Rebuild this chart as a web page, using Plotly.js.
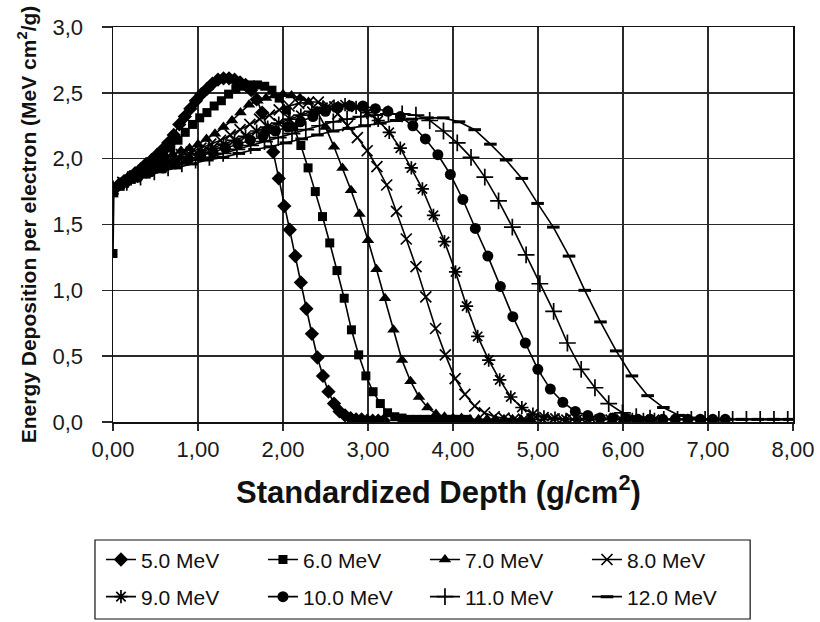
<!DOCTYPE html>
<html>
<head>
<meta charset="utf-8">
<script src="https://cdn.plot.ly/plotly-3.0.1.min.js"></script>
<style>
  html, body { margin: 0; padding: 0; background: #ffffff; }
  #chart { width: 820px; height: 622px; }
</style>
</head>
<body>
<div id="chart"></div>
<script>
// ---- Data ----
var seriesNames = ['5.0 MeV', '6.0 MeV', '7.0 MeV', '8.0 MeV', '9.0 MeV', '10.0 MeV', '11.0 MeV', '12.0 MeV'];

var depth5 = [0, 0.065, 0.13, 0.195, 0.26, 0.325, 0.39, 0.455, 0.52, 0.585, 0.65, 0.715, 0.78, 0.845, 0.91, 0.975, 1.04, 1.105, 1.17, 1.235, 1.3, 1.365, 1.43, 1.495, 1.56, 1.625, 1.69, 1.755, 1.82, 1.885, 1.95, 2.015, 2.08, 2.145, 2.21, 2.275, 2.34, 2.405, 2.47, 2.535, 2.6, 2.665, 2.73, 2.795, 2.86, 2.925, 2.99, 3.055, 3.12, 3.185];
var dose5 = [1.77, 1.80, 1.83, 1.86, 1.89, 1.92, 1.96, 1.99, 2.03, 2.07, 2.12, 2.18, 2.26, 2.32, 2.38, 2.44, 2.49, 2.53, 2.57, 2.60, 2.61, 2.61, 2.60, 2.58, 2.56, 2.52, 2.45, 2.35, 2.22, 2.05, 1.85, 1.64, 1.46, 1.26, 1.06, 0.86, 0.67, 0.49, 0.35, 0.23, 0.14, 0.08, 0.05, 0.03, 0.02, 0.02, 0.01, 0.01, 0.01, 0.01];

var depth6 = [0, 0.01, 0.085, 0.17, 0.255, 0.34, 0.425, 0.51, 0.595, 0.68, 0.765, 0.85, 0.935, 1.02, 1.105, 1.19, 1.275, 1.36, 1.445, 1.53, 1.615, 1.7, 1.785, 1.87, 1.955, 2.04, 2.125, 2.21, 2.295, 2.38, 2.465, 2.55, 2.635, 2.72, 2.805, 2.89, 2.975, 3.06, 3.145, 3.23, 3.315, 3.4, 3.485, 3.57, 3.655, 3.74, 3.825, 3.91, 3.995, 4.08, 4.165];
var dose6 = [1.28, 1.74, 1.79, 1.83, 1.88, 1.92, 1.96, 2.00, 2.04, 2.08, 2.14, 2.20, 2.26, 2.31, 2.35, 2.40, 2.44, 2.49, 2.53, 2.55, 2.56, 2.56, 2.55, 2.52, 2.46, 2.37, 2.24, 2.10, 1.93, 1.75, 1.56, 1.36, 1.15, 0.94, 0.70, 0.51, 0.35, 0.23, 0.14, 0.07, 0.04, 0.03, 0.02, 0.02, 0.02, 0.02, 0.02, 0.02, 0.02, 0.02, 0.02];

var depth7 = [0, 0.1, 0.2, 0.3, 0.4, 0.5, 0.6, 0.7, 0.8, 0.9, 1.0, 1.1, 1.2, 1.3, 1.4, 1.5, 1.6, 1.7, 1.8, 1.9, 2.0, 2.1, 2.2, 2.3, 2.4, 2.5, 2.6, 2.7, 2.8, 2.9, 3.0, 3.1, 3.2, 3.3, 3.4, 3.5, 3.6, 3.7, 3.8, 3.9, 4.0, 4.1, 4.2, 4.3, 4.4, 4.5, 4.6, 4.7, 4.8, 4.9];
var dose7 = [1.77, 1.81, 1.85, 1.89, 1.93, 1.97, 2.00, 2.03, 2.06, 2.08, 2.11, 2.15, 2.19, 2.24, 2.29, 2.35, 2.41, 2.44, 2.46, 2.48, 2.49, 2.48, 2.46, 2.43, 2.36, 2.24, 2.09, 1.93, 1.76, 1.58, 1.38, 1.16, 0.94, 0.70, 0.47, 0.31, 0.19, 0.11, 0.06, 0.04, 0.03, 0.03, 0.02, 0.02, 0.02, 0.02, 0.02, 0.02, 0.02, 0.02];

var depth8 = [0, 0.115, 0.23, 0.345, 0.46, 0.575, 0.69, 0.805, 0.92, 1.035, 1.15, 1.265, 1.38, 1.495, 1.61, 1.725, 1.84, 1.955, 2.07, 2.185, 2.3, 2.415, 2.53, 2.645, 2.76, 2.875, 2.99, 3.105, 3.22, 3.335, 3.45, 3.565, 3.68, 3.795, 3.91, 4.025, 4.14, 4.255, 4.37, 4.485, 4.6, 4.715, 4.83, 4.945, 5.06, 5.175, 5.29, 5.405, 5.52, 5.635];
var dose8 = [1.77, 1.82, 1.86, 1.90, 1.94, 1.97, 2.00, 2.03, 2.05, 2.08, 2.11, 2.14, 2.18, 2.22, 2.26, 2.30, 2.33, 2.37, 2.40, 2.42, 2.43, 2.43, 2.40, 2.34, 2.25, 2.16, 2.06, 1.94, 1.80, 1.60, 1.39, 1.18, 0.95, 0.71, 0.51, 0.33, 0.21, 0.12, 0.07, 0.04, 0.03, 0.02, 0.02, 0.02, 0.02, 0.02, 0.02, 0.02, 0.02, 0.02];

var depth9 = [0, 0.13, 0.26, 0.39, 0.52, 0.65, 0.78, 0.91, 1.04, 1.17, 1.3, 1.43, 1.56, 1.69, 1.82, 1.95, 2.08, 2.21, 2.34, 2.47, 2.6, 2.73, 2.86, 2.99, 3.12, 3.25, 3.38, 3.51, 3.64, 3.77, 3.9, 4.03, 4.16, 4.29, 4.42, 4.55, 4.68, 4.81, 4.94, 5.07, 5.2, 5.33, 5.46, 5.59, 5.72, 5.85, 5.98, 6.11, 6.24, 6.37];
var dose9 = [1.77, 1.82, 1.86, 1.90, 1.94, 1.97, 2.00, 2.03, 2.05, 2.08, 2.11, 2.14, 2.17, 2.21, 2.24, 2.27, 2.30, 2.33, 2.36, 2.39, 2.40, 2.41, 2.39, 2.35, 2.29, 2.20, 2.08, 1.93, 1.77, 1.57, 1.37, 1.14, 0.88, 0.65, 0.47, 0.32, 0.19, 0.11, 0.06, 0.04, 0.03, 0.02, 0.02, 0.02, 0.02, 0.02, 0.02, 0.02, 0.02, 0.02];

var depth10 = [0, 0.147, 0.294, 0.441, 0.588, 0.735, 0.882, 1.029, 1.176, 1.323, 1.47, 1.617, 1.764, 1.911, 2.058, 2.205, 2.352, 2.499, 2.646, 2.793, 2.94, 3.087, 3.234, 3.381, 3.528, 3.675, 3.822, 3.969, 4.116, 4.263, 4.41, 4.557, 4.704, 4.851, 4.998, 5.145, 5.292, 5.439, 5.586, 5.733, 5.88, 6.027, 6.174, 6.321, 6.468, 6.615, 6.762, 6.909, 7.056, 7.203];
var dose10 = [1.77, 1.82, 1.86, 1.90, 1.93, 1.96, 1.99, 2.02, 2.05, 2.08, 2.11, 2.14, 2.17, 2.21, 2.24, 2.28, 2.32, 2.36, 2.39, 2.40, 2.40, 2.38, 2.36, 2.32, 2.25, 2.15, 2.03, 1.88, 1.69, 1.47, 1.26, 1.03, 0.80, 0.60, 0.40, 0.25, 0.15, 0.08, 0.05, 0.03, 0.03, 0.02, 0.02, 0.02, 0.02, 0.02, 0.02, 0.02, 0.02, 0.02];

var depth11 = [0, 0.162, 0.324, 0.486, 0.648, 0.81, 0.972, 1.134, 1.296, 1.458, 1.62, 1.782, 1.944, 2.106, 2.268, 2.43, 2.592, 2.754, 2.916, 3.078, 3.24, 3.402, 3.564, 3.726, 3.888, 4.05, 4.212, 4.374, 4.536, 4.698, 4.86, 5.022, 5.184, 5.346, 5.508, 5.67, 5.832, 5.994, 6.156, 6.318, 6.48, 6.642, 6.804, 6.966, 7.128, 7.29, 7.452, 7.614, 7.776, 7.938];
var dose11 = [1.77, 1.82, 1.86, 1.90, 1.93, 1.96, 1.99, 2.01, 2.04, 2.07, 2.10, 2.13, 2.16, 2.19, 2.22, 2.25, 2.28, 2.30, 2.32, 2.33, 2.34, 2.34, 2.33, 2.29, 2.21, 2.12, 2.01, 1.86, 1.68, 1.48, 1.27, 1.05, 0.84, 0.60, 0.40, 0.26, 0.14, 0.07, 0.04, 0.03, 0.02, 0.02, 0.02, 0.02, 0.02, 0.02, 0.02, 0.02, 0.02, 0.02];

var depth12 = [0, 0.185, 0.37, 0.555, 0.74, 0.925, 1.11, 1.295, 1.48, 1.665, 1.85, 2.035, 2.22, 2.405, 2.59, 2.775, 2.96, 3.145, 3.33, 3.515, 3.7, 3.885, 4.07, 4.255, 4.44, 4.625, 4.81, 4.995, 5.18, 5.365, 5.55, 5.735, 5.92, 6.105, 6.29, 6.475, 6.66, 6.845, 7.03, 7.215, 7.4, 7.585, 7.77, 7.955, 8.14];
var dose12 = [1.77, 1.82, 1.86, 1.90, 1.93, 1.96, 1.99, 2.01, 2.04, 2.07, 2.09, 2.12, 2.15, 2.18, 2.21, 2.23, 2.25, 2.27, 2.29, 2.30, 2.31, 2.31, 2.28, 2.22, 2.11, 1.99, 1.85, 1.66, 1.48, 1.26, 1.00, 0.76, 0.54, 0.35, 0.20, 0.11, 0.05, 0.03, 0.02, 0.02, 0.02, 0.02, 0.02, 0.02, 0.02];

var xTickVals = [0, 1, 2, 3, 4, 5, 6, 7, 8];
var yTickVals = [0, 0.5, 1.0, 1.5, 2.0, 2.5, 3.0];

// ---- Styles ----
var FONT = 'Arial, "Liberation Sans", sans-serif';
var depths = [depth5, depth6, depth7, depth8, depth9, depth10, depth11, depth12];
var doses = [dose5, dose6, dose7, dose8, dose9, dose10, dose11, dose12];
var markerStyles = [
  {symbol: 'diamond', size: 11, color: '#000', line: {width: 0}},
  {symbol: 'square', size: 9, color: '#000', line: {width: 0}},
  {symbol: 'triangle-up', size: 11, color: '#000', line: {width: 0}},
  {symbol: 'x-thin-open', size: 11, color: '#000', line: {width: 1.7, color: '#000'}},
  {symbol: 'asterisk-open', size: 11, color: '#000', line: {width: 1.7, color: '#000'}},
  {symbol: 'circle', size: 11, color: '#000', line: {width: 0}},
  {symbol: 'cross-thin-open', size: 12, color: '#000', line: {width: 1.7, color: '#000'}},
  {symbol: 'line-ew-open', size: 9, color: '#000', line: {width: 3, color: '#000'}}
];

var traces = seriesNames.map(function (nm, i) {
  return {
    type: 'scatter',
    mode: 'lines+markers',
    name: nm,
    x: depths[i],
    y: doses[i],
    line: {color: '#000', width: 1.6},
    marker: markerStyles[i],
    legend: i < 4 ? 'legend' : 'legend2',
    cliponaxis: true,
    hoverinfo: 'x+y+name'
  };
});

var legendCommon = {
  orientation: 'h',
  xanchor: 'left',
  yanchor: 'middle',
  x: -0.0177,
  font: {family: FONT, size: 21, color: '#111'},
  entrywidth: 117,
  entrywidthmode: 'pixels',
  bgcolor: 'rgba(0,0,0,0)',
  borderwidth: 0,
  traceorder: 'normal'
};

var layout = {
  width: 820,
  height: 622,
  margin: {l: 113, r: 27, t: 27, b: 200, pad: 0, autoexpand: false},
  paper_bgcolor: '#ffffff',
  plot_bgcolor: '#ffffff',
  separators: ', ',
  font: {family: FONT, color: '#111'},
  showlegend: true,
  xaxis: {
    range: [0, 8],
    tickvals: xTickVals,
    tickformat: '.2f',
    showgrid: true,
    gridcolor: '#2a2a2a',
    gridwidth: 1.5,
    zeroline: false,
    showline: true,
    mirror: true,
    linecolor: '#111',
    linewidth: 1.5,
    ticks: 'outside',
    ticklen: 7,
    tickwidth: 1.5,
    tickcolor: '#2a2a2a',
    tickfont: {family: FONT, size: 22, color: '#1a1a1a'},
    fixedrange: true
  },
  yaxis: {
    range: [0, 3],
    tickvals: yTickVals,
    tickformat: '.1f',
    showgrid: true,
    gridcolor: '#2a2a2a',
    gridwidth: 1.5,
    zeroline: false,
    showline: true,
    mirror: true,
    linecolor: '#111',
    linewidth: 1.5,
    ticks: 'outside',
    ticklen: 10,
    tickwidth: 1.5,
    tickcolor: '#2a2a2a',
    ticklabelstandoff: 14,
    tickfont: {family: FONT, size: 22, color: '#1a1a1a'},
    title: {
      text: 'Energy Deposition per electron (MeV cm<sup>2</sup>/g)',
      font: {family: FONT, size: 21, color: '#111', weight: 700},
      standoff: 10
    },
    fixedrange: true
  },
  annotations: [{
    text: 'Standardized Depth (g/cm<sup>2</sup>)',
    xref: 'paper', yref: 'paper',
    x: 0.479, y: -0.172,
    xanchor: 'center', yanchor: 'middle',
    showarrow: false,
    font: {family: FONT, size: 31, color: '#111', weight: 700}
  }],
  legend: Object.assign({}, legendCommon, {y: -0.349}),
  legend2: Object.assign({}, legendCommon, {y: -0.443}),
  shapes: [{
    type: 'rect', xref: 'paper', yref: 'paper',
    x0: -0.0265, x1: 0.937, y0: -0.4987, y1: -0.2987,
    line: {color: '#111', width: 1.2},
    fillcolor: 'rgba(0,0,0,0)',
    layer: 'above'
  }]
};

Plotly.newPlot('chart', traces, layout, {displayModeBar: false, staticPlot: true});
</script>
</body>
</html>
